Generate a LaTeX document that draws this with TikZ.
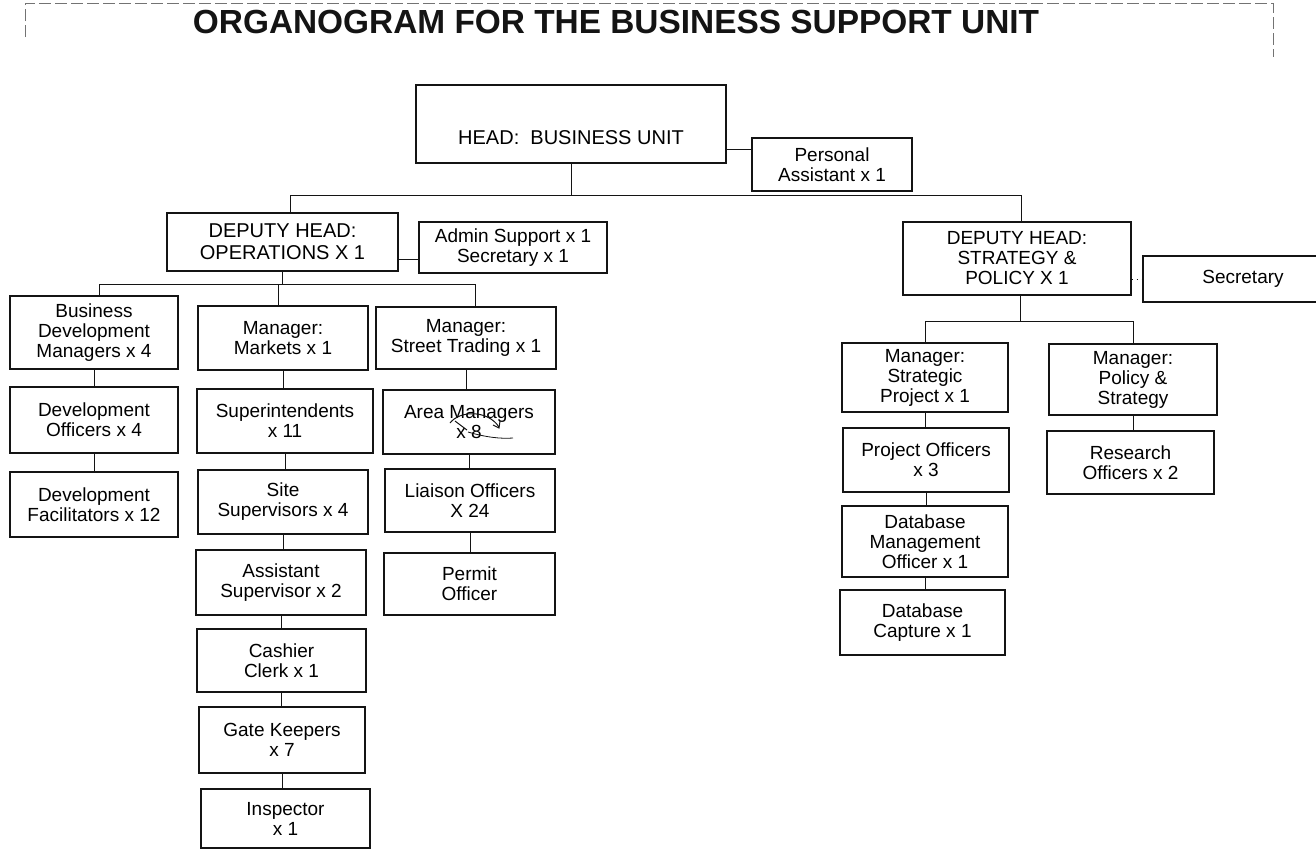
\documentclass[tikz,border=0pt]{standalone}
\usepackage{fontspec}
\setmainfont{Liberation Sans}
\begin{document}
\begin{tikzpicture}[x=0.5pt,y=-0.5pt,
  unitbox/.style={draw=drawColor,line width=0.6pt,inner sep=0pt,align=center,font=\fontsize{9.5}{10}\selectfont},
  link/.style={draw=drawColor,line width=0.5pt}]
\definecolor{drawColor}{RGB}{20,20,20}
\definecolor{frameColor}{gray}{0.45}
\path[use as bounding box,fill=white] (0,0) rectangle (1316,859);

% edge of the scanned page
\path[draw=frameColor,line width=0.4pt,dash pattern=on 6pt off 2pt] (25,37) -- (25,3) -- (1273,3) -- (1273,57);

\node[text=drawColor,inner sep=0pt,font=\fontsize{16.7}{18}\bfseries\selectfont] (title) at (616,22) {ORGANOGRAM FOR THE BUSINESS SUPPORT UNIT};

% head and deputies
\node[unitbox,minimum width=155pt,minimum height=39pt,font=\fontsize{10}{10}\selectfont,text height=22pt,text depth=2pt] (head) at (571,124) {HEAD:\ \ BUSINESS UNIT};
\node[unitbox,minimum width=80pt,minimum height=26.5pt] (pa) at (832,164.5) {Personal\\Assistant x 1};
\node[unitbox,minimum width=115.5pt,minimum height=29pt,font=\fontsize{10}{11}\selectfont] (dops) at (282.5,242) {DEPUTY HEAD:\\OPERATIONS X 1};
\node[unitbox,minimum width=94pt,minimum height=25.5pt] (admin) at (513,247.5) {Admin Support x 1\\Secretary x 1};
\node[unitbox,minimum width=114pt,minimum height=36.5pt] (dstrat) at (1017,258.5) {DEPUTY HEAD:\\STRATEGY \&\\POLICY X 1};
\node[unitbox,minimum width=100pt,minimum height=23pt] (sec) at (1243,279) {Secretary};

% operations
\node[unitbox,minimum width=84pt,minimum height=36.5pt] (bdm) at (94,332.5) {Business\\Development\\Managers x 4};
\node[unitbox,minimum width=84pt,minimum height=33pt] (devoff) at (94,420) {Development\\Officers x 4};
\node[unitbox,minimum width=84pt,minimum height=32.5pt] (devfac) at (94,504.5) {Development\\Facilitators x 12};
\node[unitbox,minimum width=85pt,minimum height=32pt] (mkt) at (283,338) {Manager:\\Markets x 1};
\node[unitbox,minimum width=88pt,minimum height=32pt] (supt) at (285,421) {Superintendents\\x 11};
\node[unitbox,minimum width=85pt,minimum height=32pt] (site) at (283,502) {Site\\Supervisors x 4};
\node[unitbox,minimum width=85pt,minimum height=32.5pt] (asst) at (281,582.5) {Assistant\\Supervisor x 2};
\node[unitbox,minimum width=84.5pt,minimum height=31.5pt] (cash) at (281.5,660.5) {Cashier\\Clerk x 1};
\node[unitbox,minimum width=83pt,minimum height=33pt] (gate) at (282,740) {Gate Keepers\\x 7};
\node[unitbox,minimum width=84.5pt,minimum height=29.5pt] (insp) at (285.5,818.5) {Inspector\\x 1};
\node[unitbox,minimum width=90pt,minimum height=31pt] (street) at (466,338) {Manager:\\Street Trading x 1};
\node[unitbox,minimum width=86pt,minimum height=32pt] (area) at (469,422) {Area Managers\\x 8};
\node[unitbox,minimum width=85pt,minimum height=31.5pt] (liaison) at (470,500.5) {Liaison Officers\\X 24};
\node[unitbox,minimum width=85.5pt,minimum height=31pt] (permit) at (469.5,584) {Permit\\Officer};

% strategy and policy
\node[unitbox,minimum width=83pt,minimum height=34.5pt] (msp) at (925,377.5) {Manager:\\Strategic\\Project x 1};
\node[unitbox,minimum width=84pt,minimum height=35.5pt] (mps) at (1133,379.5) {Manager:\\Policy \&\\Strategy};
\node[unitbox,minimum width=83pt,minimum height=32pt] (projoff) at (926,460) {Project Officers\\x 3};
\node[unitbox,minimum width=83pt,minimum height=35.5pt] (dbm) at (925,541.5) {Database\\Management\\Officer x 1};
\node[unitbox,minimum width=82.5pt,minimum height=32.5pt] (dbc) at (922.5,622.5) {Database\\Capture x 1};
\node[unitbox,minimum width=83.5pt,minimum height=31.5pt] (research) at (1130.5,462.5) {Research\\Officers x 2};

% bus lines
\coordinate (topbus) at (0,195);
\coordinate (opsbus) at (0,284);
\coordinate (stratbus) at (0,321);
\coordinate (paline) at (0,149);
\coordinate (adminline) at (0,259);

\path[link] (head.south) -- (head.south |- topbus);
\path[link] ([xshift=4pt]dops.north) -- ([xshift=4pt]dops.north |- topbus) -- ([xshift=2pt]dstrat.north |- topbus) -- ([xshift=2pt]dstrat.north);
\path[link] (head.east |- paline) -- (pa.west |- paline);
\path[link] (dops.east |- adminline) -- (admin.west |- adminline);
\path[link,dotted] (dstrat.east |- sec.west) -- (sec.west);

\path[link] (dops.south) -- (dops.south |- opsbus);
\path[link] ([xshift=2.5pt]bdm.north) -- ([xshift=2.5pt]bdm.north |- opsbus) -- ([xshift=4.5pt]street.north |- opsbus) -- ([xshift=4.5pt]street.north);
\path[link] ([xshift=-2.5pt]mkt.north) -- ([xshift=-2.5pt]mkt.north |- opsbus);

\path[link] ([xshift=1.5pt]dstrat.south) -- ([xshift=1.5pt]dstrat.south |- stratbus);
\path[link] (msp.north) -- (msp.north |- stratbus) -- (mps.north |- stratbus) -- (mps.north);

% reporting lines down each column
\path[link] (bdm.south) -- (bdm.south |- devoff.north);
\path[link] (devoff.south) -- (devoff.south |- devfac.north);
\path[link] (mkt.south) -- (mkt.south |- supt.north);
\path[link] (supt.south) -- (supt.south |- site.north);
\path[link] (site.south) -- (site.south |- asst.north);
\path[link] (asst.south) -- (asst.south |- cash.north);
\path[link] (cash.south) -- (cash.south |- gate.north);
\path[link] (gate.south) -- (gate.south |- insp.north);
\path[link] (street.south) -- (street.south |- area.north);
\path[link] (area.south) -- (area.south |- liaison.north);
\path[link] (liaison.south) -- (liaison.south |- permit.north);
\path[link] (msp.south) -- (msp.south |- projoff.north);
\path[link] (projoff.south) -- (projoff.south |- dbm.north);
\path[link] (dbm.south) -- (dbm.south |- dbc.north);
\path[link] (mps.south) -- (mps.south |- research.north);

% pen marks over "x 8"
\path[draw=drawColor,line width=0.5pt] (450,423) .. controls (460,410) and (488,410) .. (499,427);
\path[draw=drawColor,line width=0.5pt] (493,425) -- (499,428) -- (500,421);
\path[draw=drawColor,line width=0.5pt] (455,421) -- (467,430);
\path[draw=drawColor,line width=0.4pt] (468,432) .. controls (485,437) and (500,439) .. (513,438);
\end{tikzpicture}
\end{document}
